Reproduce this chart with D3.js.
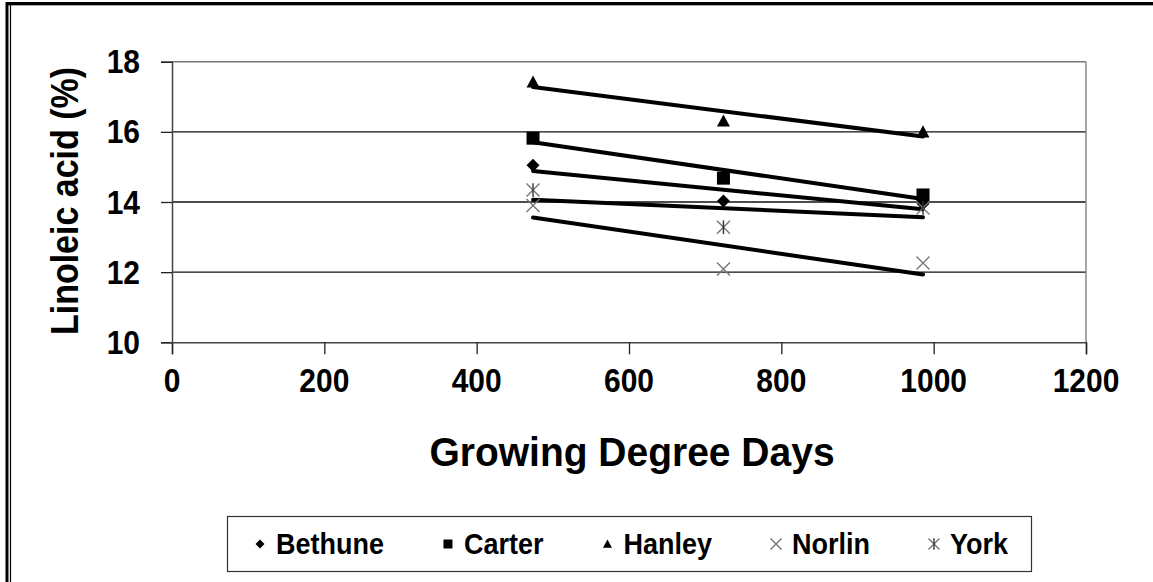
<!DOCTYPE html>
<html><head><meta charset="utf-8">
<script src="https://cdn.jsdelivr.net/npm/d3@7"></script>
<style>
body{margin:0;background:#fff}
svg{display:block}
text{font-family:"Liberation Sans",Arial,sans-serif;font-weight:bold;fill:#000}
</style>
</head><body><svg id="c" width="1153" height="582"></svg>
<script>
// ---- data ----
const gdd = [474, 724, 986];
const seriesNames = ["Bethune", "Carter", "Hanley", "Norlin", "York"];
const bethune = [15.05, 14.03, 13.95];
const carter  = [15.82, 14.68, 14.20];
const hanley  = [17.42, 16.31, 16.00];
const norlin  = [13.90, 12.09, 12.26];
const york    = [14.34, 13.28, 13.83];
const xTicks = [0, 200, 400, 600, 800, 1000, 1200];
const yTicks = [10, 12, 14, 16, 18];
const xTitle = "Growing Degree Days";
const yTitle = "Linoleic acid (%)";

(function () {
const seriesValues = [bethune, carter, hanley, norlin, york];
const markerKinds = ["diamond", "square", "triangle", "cross", "star"];

const svg = d3.select("#c");
svg.append("rect").attr("width", 1153).attr("height", 582).attr("fill", "#fff");

// outer frame (top thick line, left double line)
svg.append("line").attr("x1", 6).attr("x2", 1153).attr("y1", 3.5).attr("y2", 3.5).attr("stroke", "#000").attr("stroke-width", 3);
svg.append("line").attr("x1", 6).attr("x2", 1153).attr("y1", 5.5).attr("y2", 5.5).attr("stroke", "#aaa").attr("stroke-width", 1);
svg.append("line").attr("x1", 7).attr("x2", 7).attr("y1", 2).attr("y2", 582).attr("stroke", "#000").attr("stroke-width", 3);
svg.append("line").attr("x1", 10.5).attr("x2", 10.5).attr("y1", 5).attr("y2", 582).attr("stroke", "#000").attr("stroke-width", 1.2);

const pL = 172, pR = 1086, pT = 61.7, pB = 342.3;
const x = d3.scaleLinear().domain([0, 1200]).range([pL, pR]);
const y = d3.scaleLinear().domain([10, 18]).range([pB, pT]);

// gridlines
svg.append("g").selectAll("line").data(yTicks.filter(d => d > 10)).join("line")
  .attr("x1", pL).attr("x2", pR)
  .attr("y1", d => y(d)).attr("y2", d => y(d))
  .attr("stroke", d => d === 18 ? "#777" : "#111").attr("stroke-width", d => d === 18 ? 1.5 : 1.3);
// right plot border
svg.append("line").attr("x1", pR).attr("x2", pR).attr("y1", pT).attr("y2", pB)
  .attr("stroke", "#888").attr("stroke-width", 1.5);

// axes
const gx = svg.append("g").attr("transform", `translate(0,${pB})`)
  .call(d3.axisBottom(x).tickValues(xTicks).tickSize(12).tickFormat(""));
const gy = svg.append("g").attr("transform", `translate(${pL},0)`)
  .call(d3.axisLeft(y).tickValues(yTicks).tickSize(11).tickFormat(""));
[gx, gy].forEach(g => {
  g.select(".domain").attr("stroke", "#444").attr("stroke-width", 1.5);
  g.selectAll(".tick line").attr("stroke", "#222").attr("stroke-width", 1.3);
});

// tick labels (stretched bold digits)
svg.append("g").selectAll("text").data(yTicks).join("text")
  .attr("transform", d => `translate(140,${y(d)}) scale(1,1.12)`)
  .attr("text-anchor", "end").attr("dominant-baseline", "central")
  .style("font-size", "30px").text(d => d);
svg.append("g").selectAll("text").data(xTicks).join("text")
  .attr("transform", d => `translate(${x(d)},380) scale(1,1.12)`)
  .attr("text-anchor", "middle").attr("dominant-baseline", "central")
  .style("font-size", "30px").text(d => d);

// titles
svg.append("text")
  .attr("transform", `translate(${(pL + pR) / 2 + 3},452) scale(1,1.06)`)
  .attr("text-anchor", "middle").attr("dominant-baseline", "central")
  .style("font-size", "39px").text(xTitle);
svg.append("text")
  .attr("transform", `translate(65,201) rotate(-90) scale(1,1.12)`)
  .attr("text-anchor", "middle").attr("dominant-baseline", "central")
  .style("font-size", "34px").text(yTitle);

// trend lines (least-squares fit of each series)
function fit(xs, ys) {
  const mx = d3.mean(xs), my = d3.mean(ys);
  const sxy = d3.sum(xs, (v, i) => (v - mx) * (ys[i] - my));
  const sxx = d3.sum(xs, v => (v - mx) * (v - mx));
  const b = sxy / sxx;
  return v => my + b * (v - mx);
}
const x0 = d3.min(gdd), x1 = d3.max(gdd);
svg.append("g").selectAll("line").data(seriesValues).join("line")
  .attr("x1", x(x0)).attr("x2", x(x1))
  .attr("y1", d => y(fit(gdd, d)(x0))).attr("y2", d => y(fit(gdd, d)(x1)))
  .attr("stroke", "#000").attr("stroke-width", 4).attr("stroke-linecap", "round");

// markers
function marker(g, kind, s) {
  if (kind === "diamond") g.append("path").attr("d", `M0,${-s}L${s},0L0,${s}L${-s},0Z`).attr("fill", "#000");
  else if (kind === "square") g.append("rect").attr("x", -s).attr("y", -s).attr("width", 2 * s).attr("height", 2 * s).attr("fill", "#000");
  else if (kind === "triangle") g.append("path").attr("d", `M0,${-s}L${s},${s * 0.85}L${-s},${s * 0.85}Z`).attr("fill", "#000");
  else {
    g.append("path").attr("d", `M${-s},${-s}L${s},${s}M${-s},${s}L${s},${-s}`)
      .attr("stroke", "#777").attr("stroke-width", 1.4).attr("fill", "none");
    if (kind === "star") g.append("path").attr("d", `M0,${-s * 1.05}L0,${s * 1.05}`)
      .attr("stroke", "#333").attr("stroke-width", 1.4);
  }
}
seriesValues.forEach((vals, si) => {
  vals.forEach((v, i) => {
    const g = svg.append("g").attr("transform", `translate(${x(gdd[i])},${y(v)})`);
    marker(g, markerKinds[si], 6.5);
  });
});

// legend
const lg = svg.append("g");
lg.append("rect").attr("x", 227.5).attr("y", 516.5).attr("width", 804).attr("height", 55)
  .attr("fill", "#fff").attr("stroke", "#333").attr("stroke-width", 1.2);
const items = lg.selectAll("g.item").data(seriesNames).join("g").attr("class", "item");
const textOff = 16;
items.each(function (name, i) {
  const g = d3.select(this);
  const m = g.append("g");
  marker(m, markerKinds[i], markerKinds[i] === "cross" || markerKinds[i] === "star" ? 5.5 : 4.5);
  g.append("text").attr("x", textOff).attr("dominant-baseline", "central")
    .attr("transform", "scale(1,1.1)").style("font-size", "27px").text(name);
});
const widths = [];
items.each(function () { widths.push(d3.select(this).select("text").node().getComputedTextLength() + textOff); });
const firstMarker = 260, lastTextEnd = 1008;
const gap = (lastTextEnd - firstMarker - d3.sum(widths)) / (widths.length - 1);
let cx = firstMarker;
items.each(function (d, i) {
  d3.select(this).attr("transform", `translate(${cx},544)`);
  cx += widths[i] + gap;
});
})();
</script>
</body></html>
